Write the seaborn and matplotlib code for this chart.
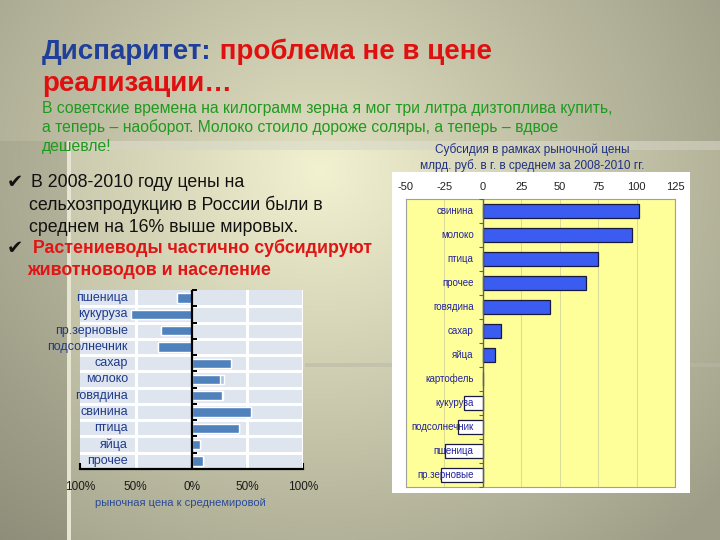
import numpy as np
import pandas as pd
import matplotlib
matplotlib.use("Agg")
import matplotlib.pyplot as plt
import seaborn as sns
from matplotlib.patches import Rectangle

# ---------------- data ----------------
price_cats = ['пшеница', 'кукуруза', 'пр.зерновые', 'подсолнечник', 'сахар', 'молоко',
              'говядина', 'свинина', 'птица', 'яйца', 'прочее']
price_vals = [-13, -54, -27.5, -30, 35.5, 26, 27, 53.5, 43, 8, 10.5]
price_shadow = [-13, -54, -27.5, -30, 35.5, 29, 28.5, 53.5, 43, 8, 10.5]
price_ticks = [-100, -50, 0, 50, 100]
price_tick_labels = ['100%', '50%', '0%', '50%', '100%']

sub_cats = ['свинина', 'молоко', 'птица', 'прочее', 'говядина', 'сахар', 'яйца',
            'картофель', 'кукуруза', 'подсолнечник', 'пшеница', 'пр.зерновые']
sub_vals = [101.3, 97.0, 75.0, 67.3, 44.0, 11.6, 7.6, 0.0, -12.0, -16.2, -24.7, -27.3]
sub_ticks = [-50, -25, 0, 25, 50, 75, 100, 125]
sub_tick_labels = ['-50', '-25', '0', '25', '50', '75', '100', '125']

# ---------------- style ----------------
sns.set_style("white")
plt.rcParams['font.family'] = ['Liberation Sans', 'DejaVu Sans']
plt.rcParams['axes.unicode_minus'] = False

W, H = 720, 540
fig = plt.figure(figsize=(7.2, 5.4), dpi=100)


def fx(x):
    return x / W


def fy(y):
    return 1 - y / H


# ---------------- background ----------------
yy, xx = np.mgrid[0:H, 0:W]
r = np.sqrt((xx - 320) ** 2 + ((yy - 170) / 0.9) ** 2)
t = np.clip(r / 540, 0, 1)[..., None]
c0 = np.array([242, 241, 208]) / 255
c1 = np.array([158, 158, 136]) / 255
img = c0 * (1 - t) + c1 * t
img[yy < 141] *= 0.93
img[(xx < 67) & (yy >= 141)] *= 0.88
band = (yy >= 141) & (yy < 150) & (xx >= 67)
img[band] = 0.5 * img[band] + 0.5 * np.array([0.83, 0.83, 0.78])
vline = (xx >= 67) & (xx < 71) & (yy >= 141)
img[vline] = np.array([0.90, 0.90, 0.82])
band2 = (yy >= 363) & (yy < 367) & (xx >= 305)
img[band2] = 0.5 * img[band2] + 0.5 * np.array([0.72, 0.72, 0.65])
img = np.clip(img, 0, 1)

bg = fig.add_axes([0, 0, 1, 1])
bg.imshow(img, aspect='auto', extent=(0, W, H, 0))
bg.axis('off')
bg.set_zorder(-10)

# ---------------- texts ----------------
t1 = fig.text(fx(42), fy(59), 'Диспаритет:', color='#1f3f9a', fontsize=20,
              fontweight='bold', va='baseline', ha='left')
bg.annotate(' проблема не в цене', xy=(1, 0), xycoords=t1, va='bottom', ha='left',
            color='#e01010', fontsize=20, fontweight='bold', annotation_clip=False)
fig.text(fx(42), fy(91), 'реализации…', color='#e01010', fontsize=20,
         fontweight='bold', va='baseline', ha='left')

green = ['В советские времена на килограмм зерна я мог три литра дизтоплива купить,',
         'а теперь – наоборот. Молоко стоило дороже соляры, а теперь – вдвое',
         'дешевле!']
for s, yb in zip(green, [113, 132, 151]):
    fig.text(fx(42), fy(yb), s, color='#1e9a1e', fontsize=11.3, va='baseline', ha='left')

fig.text(fx(7), fy(188), '✔', color='#111111', fontsize=14, va='baseline',
         family=['DejaVu Sans'])
fig.text(fx(31), fy(187), 'В 2008-2010 году цены на', color='#111111', fontsize=12.8,
         va='baseline')
fig.text(fx(29), fy(210), 'сельхозпродукцию в России были в', color='#111111',
         fontsize=12.8, va='baseline')
fig.text(fx(29), fy(232), 'среднем на 16% выше мировых.', color='#111111',
         fontsize=12.8, va='baseline')
fig.text(fx(7), fy(254), '✔', color='#111111', fontsize=14, va='baseline',
         family=['DejaVu Sans'])
fig.text(fx(33), fy(253), 'Растениеводы частично субсидируют', color='#e01515',
         fontsize=12.8, fontweight='bold', va='baseline')
fig.text(fx(27), fy(275), 'животноводов и население', color='#e01515',
         fontsize=12.8, fontweight='bold', va='baseline')

fig.text(fx(532), fy(150), 'Субсидия в рамках рыночной цены', color='#1f2f80',
         fontsize=8.5, ha='center', va='center')
fig.text(fx(532), fy(166), 'млрд. руб. в г. в среднем за 2008-2010 гг.', color='#1f2f80',
         fontsize=8.5, ha='center', va='center')

# ---------------- left chart ----------------
ax1 = fig.add_axes([fx(80), fy(469), 223 / W, 179 / H])
ax1.set_zorder(1)
ax1.set_facecolor('#dfe5ef')
sns.barplot(x=price_shadow, y=price_cats, color='#aec2dd', width=0.58, saturation=1,
            ax=ax1, zorder=2)
sns.barplot(x=price_vals, y=price_cats, color='#4f81bd', width=0.58, saturation=1,
            ax=ax1, zorder=3)
n1 = len(price_cats)
ax1.set_xlim(price_ticks[0], price_ticks[-1])
ax1.set_ylim(n1 - 0.5, -0.5)
for v in [-50, 50, 100]:
    ax1.axvline(v, color='white', lw=2.2, zorder=1)
for i in range(n1 - 1):
    ax1.axhline(i + 0.5, color='white', lw=2.2, zorder=1)
ax1.axvline(0, color='black', lw=1.6, zorder=4)
ax1.plot(np.zeros(n1 + 1), np.arange(n1 + 1) - 0.5, ls='none', marker=1, ms=3.5,
         mew=1.4, color='black', zorder=4, clip_on=False)
for i, c in enumerate(price_cats):
    ax1.text(-57, i, c, ha='right', va='center', fontsize=9, color='#1f3a8a', zorder=5)
ax1.set_yticks([])
ax1.set_ylabel('')
ax1.set_xlabel('')
ax1.set_xticks(price_ticks)
ax1.set_xticklabels(price_tick_labels)
ax1.tick_params(axis='x', direction='in', length=4, width=1.5, color='black',
                labelsize=8.5, labelcolor='#1a1a1a', pad=8.5, bottom=True)
for s in ['left', 'top', 'right']:
    ax1.spines[s].set_visible(False)
ax1.spines['bottom'].set_color('black')
ax1.spines['bottom'].set_linewidth(1.6)
fig.text(fx(180), fy(503), 'рыночная цена к среднемировой', ha='center', va='center',
         fontsize=8, color='#2a4a9a')

# ---------------- right chart ----------------
fig.patches.append(Rectangle((fx(392), fy(493)), 298 / W, 321 / H,
                             transform=fig.transFigure, facecolor='white',
                             edgecolor='none', zorder=0.5))
ax2 = fig.add_axes([fx(406), fy(487), 269 / W, 288 / H])
ax2.set_zorder(1)
ax2.set_facecolor('#ffff99')
bar_cols = ['#3a5cf0' if v > 0 else 'white' for v in sub_vals]
sns.barplot(x=sub_vals, y=sub_cats, hue=sub_cats, palette=bar_cols, legend=False,
            width=0.62, saturation=1, edgecolor='#1a1a40', linewidth=0.9, ax=ax2)
n2 = len(sub_cats)
ax2.set_xlim(sub_ticks[0], sub_ticks[-1])
ax2.set_ylim(n2 - 0.5, -0.5)
ax2.set_axisbelow(True)
ax2.set_xticks(sub_ticks)
ax2.set_xticklabels(sub_tick_labels)
ax2.grid(axis='x', color='#dcdc9a', lw=0.8)
ax2.grid(axis='y', visible=False)
ax2.axvline(0, color='#606060', lw=1.0, zorder=4)
ax2.plot(np.zeros(n2 + 1), np.arange(n2 + 1) - 0.5, ls='none', marker=0, ms=3,
         mew=0.8, color='#606060', zorder=4)
for i, c in enumerate(sub_cats):
    ax2.text(-6, i, c, ha='right', va='center', fontsize=7, color='#2323a0', zorder=6)
ax2.set_yticks([])
ax2.set_ylabel('')
ax2.set_xlabel('')
ax2.xaxis.tick_top()
ax2.tick_params(axis='x', length=0, pad=5, labelsize=8, labelcolor='#222222')
for s in ax2.spines.values():
    s.set_color('#a0a0a0')
    s.set_linewidth(0.8)

fig.savefig('out.png', dpi=100)
